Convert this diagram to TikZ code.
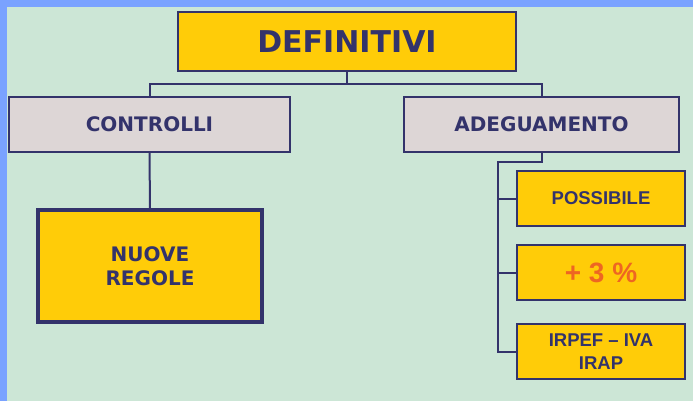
\documentclass[tikz,border=0pt]{standalone}
\usepackage{fontspec}
\setmainfont{DejaVu Sans}
\newfontfamily\arialfont{Liberation Sans}
\definecolor{bgblue}{RGB}{122,162,255}
\definecolor{bggreen}{RGB}{204,230,214}
\definecolor{boxyellow}{RGB}{255,204,8}
\definecolor{boxgray}{RGB}{221,214,214}
\definecolor{navy}{RGB}{51,51,107}
\definecolor{pctorange}{RGB}{238,102,34}
\begin{document}
\begin{tikzpicture}[x=1pt,y=-1pt,
  basebox/.style={draw=navy, line width=2pt, text=navy, inner sep=0pt, align=center},
  topbox/.style={basebox, fill=boxyellow, minimum width=338pt, minimum height=59pt, font=\fontsize{30}{32}\selectfont\bfseries},
  headbox/.style={basebox, fill=boxgray, minimum height=55pt, font=\fontsize{20}{24}\selectfont\bfseries},
  bigbox/.style={basebox, fill=boxyellow, line width=4pt, minimum width=224pt, minimum height=112pt, font=\fontsize{20}{24}\selectfont\bfseries},
  smallbox/.style={basebox, fill=boxyellow, minimum width=168pt, minimum height=55pt, font=\arialfont\fontsize{18.5}{23}\selectfont\bfseries},
  link/.style={draw=navy, line width=2pt}
]
\fill[bgblue] (0,0) rectangle (693,401);
\fill[bggreen] (7,7) rectangle (693,401);
\useasboundingbox (0,0) rectangle (693,401);

\node[topbox] (def) at (347,41.5) {DEFINITIVI};
\node[headbox, minimum width=281pt] (ctrl) at (149.5,124.5) {CONTROLLI};
\node[headbox, minimum width=275pt] (adeg) at (541.5,124.5) {ADEGUAMENTO};
\node[bigbox] (nuove) at (150,266) {NUOVE\\REGOLE};
\node[smallbox] (poss) at (601,198.5) {POSSIBILE};
\node[smallbox, text=pctorange, font=\arialfont\fontsize{28}{30}\selectfont\bfseries] (pct) at (601,272.5) {+ 3 \%};
\node[smallbox] (irpef) at (601,351.5) {IRPEF – IVA\\IRAP};

\coordinate (j) at (347,84);
\coordinate (s) at (498,162);

\draw[link] (def.south) -- (j);
\draw[link] (ctrl.north) |- (j) -| (adeg.north);
\draw[link] (ctrl.south) -- (nuove.north);
\draw[link] (adeg.south) |- (s) |- (irpef.west);
\draw[link] (poss.west) -- (poss.west -| s);
\draw[link] (pct.west) -- (pct.west -| s);
\end{tikzpicture}
\end{document}
